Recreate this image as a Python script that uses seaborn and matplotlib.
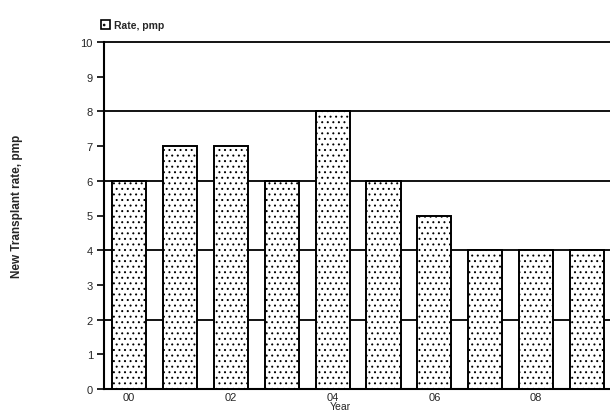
import matplotlib
matplotlib.use("Agg")
import matplotlib.pyplot as plt
import seaborn as sns
import pandas as pd
from matplotlib.patches import Patch

years = ["00", "01", "02", "03", "04", "05", "06", "07", "08", "09"]
rate = [6, 7, 7, 6, 8, 6, 5, 4, 4, 4]
shown_labels = ["00", "", "02", "", "04", "", "06", "", "08", ""]

sns.set_style("white")
plt.rcParams["font.family"] = ["Liberation Sans", "DejaVu Sans"]
plt.rcParams["hatch.color"] = "0.35"
plt.rcParams["hatch.linewidth"] = 0.7

df = pd.DataFrame({"Year": years, "Rate": rate})

fig = plt.figure(figsize=(6.1, 4.14), dpi=100)
ax = fig.add_axes([104 / 610, 24 / 414, 506 / 610, 347 / 414])

sns.barplot(data=df, x="Year", y="Rate", ax=ax, color="white",
            edgecolor="black", linewidth=1.4, width=0.67, zorder=3)
for bar in ax.patches:
    bar.set_hatch("...")

# horizontal grid every 2 units, hidden behind the bars
for yv in range(2, 11, 2):
    ax.axhline(yv, color="black", lw=1.3, zorder=1, clip_on=False)

ax.set_ylim(0, 10)
ax.set_yticks(range(0, 11))
ax.set_xlim(-0.49, 9.45)
ax.set_xticks(range(len(years)))
ax.set_xticklabels(shown_labels, fontsize=8)
ax.tick_params(axis="x", length=0, pad=2)
ax.tick_params(axis="y", length=5, width=1.2, color="black", labelsize=8, pad=3, left=True)

for s in ["top", "right"]:
    ax.spines[s].set_visible(False)
for s in ["left", "bottom"]:
    ax.spines[s].set_color("black")
    ax.spines[s].set_linewidth(1.5)

ax.set_xlabel("Year", fontsize=7.5)
ax.xaxis.set_label_coords((340 - 104) / 506, -0.035)
ax.set_ylabel("New Transplant rate, pmp", fontsize=8.5, fontweight="bold")
ax.yaxis.set_label_coords(-(104 - 23) / 506, 0.53)

handle = Patch(facecolor="white", edgecolor="black", hatch="..", linewidth=1.2)
fig.legend([handle], ["Rate, pmp"], loc="lower left",
           bbox_to_anchor=(101 / 610, 1 - 31 / 414), frameon=False,
           handlelength=0.9, handleheight=0.9, handletextpad=0.3,
           borderpad=0, borderaxespad=0, prop={"weight": "bold", "size": 7.5})

fig.savefig("out.png", dpi=100)
